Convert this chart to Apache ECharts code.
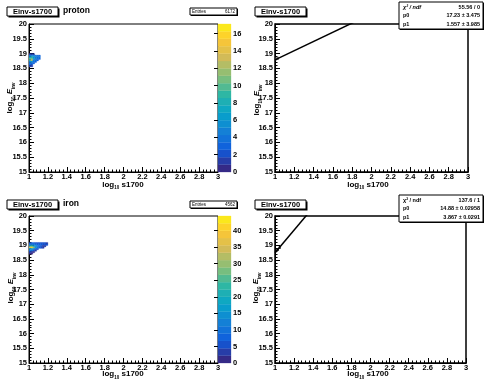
<!DOCTYPE html>
<html><head><meta charset="utf-8">
<script src="https://cdn.jsdelivr.net/npm/echarts@6/dist/echarts.min.js"></script>
<style>html,body{margin:0;padding:0;background:#fff}#c{width:484px;height:380px}</style>
</head><body><div id="c"></div>
<script>
// ---------------- data ----------------
const histTitle = 'Einv-s1700';
const panelLabels = ['proton', 'iron'];
const entries = ['6172', '4562'];
const xRange = [1, 3], xStep = 0.2;
const yRange = [15, 20], yStep = 0.5;
const binW = 0.02, binH = 0.05;
const xBinStarts = [1.00, 1.02, 1.04, 1.06, 1.08, 1.10, 1.12, 1.14, 1.16, 1.18];

const protonYBins = [18.95, 18.90, 18.85, 18.80, 18.75, 18.70, 18.65, 18.60, 18.55];
const protonCounts = [
  [1, 1, 1, 0, 0, 0],
  [4, 5, 5, 4, 4, 3],
  [6, 8, 6, 5, 4, 4],
  [10, 11, 7, 5, 4, 3],
  [9, 13, 5, 4, 3, 0],
  [5, 6, 4, 3, 0, 0],
  [4, 4, 3, 0, 0, 0],
  [3, 2, 0, 0, 0, 0],
  [1, 1, 0, 0, 0, 0]
];
const protonZMax = 17.1;
const protonZStep = 2;

const ironYBins = [19.05, 19.00, 18.95, 18.90, 18.85, 18.80, 18.75, 18.70];
const ironCounts = [
  [5, 7, 7, 6, 6, 6, 5, 5, 5, 4],
  [9, 11, 10, 9, 8, 8, 7, 6, 5, 5],
  [20, 24, 16, 12, 9, 7, 5, 4, 3, 0],
  [35, 42, 30, 18, 12, 8, 6, 4, 0, 0],
  [16, 18, 12, 8, 5, 0, 0, 0, 0, 0],
  [9, 10, 7, 4, 0, 0, 0, 0, 0, 0],
  [5, 4, 2, 0, 0, 0, 0, 0, 0, 0],
  [2, 1, 0, 0, 0, 0, 0, 0, 0, 0]
];
const ironZMax = 44.4;
const ironZStep = 5;

// profile points seen under the fit lines
const protonProfile = [[1.01, 18.82], [1.03, 18.84]];
const ironProfile = [[1.01, 18.82], [1.03, 18.86], [1.05, 18.93]];

// fit results (pol1: p0 + p1*x)
const fitX = [1, 3];
const protonFit = { chi2: '55.56 / 0', p0: 17.23, p0err: '3.475', p1: 1.557, p1err: '3.985' };
const ironFit = { chi2: '137.6 / 1', p0: 14.88, p0err: '0.02958', p1: 3.867, p1err: '0.0291' };

// ---------------- helpers ----------------
const FONT = '"Liberation Sans", Arial, sans-serif';
const bird = [[53,42,135],[15,92,221],[20,129,214],[6,164,202],[46,183,164],[135,191,119],[209,187,89],[254,200,50],[249,251,14]];
function birdColor(f) {
  const p = Math.max(0, Math.min(1, f)) * 8;
  const i = Math.min(7, Math.floor(p)), t = p - i;
  const c = bird[i].map((v, k) => Math.round(v + (bird[i + 1][k] - v) * t));
  return 'rgb(' + c.join(',') + ')';
}
function levelPieces(zmax) {
  const n = 20, dz = zmax / n, pieces = [];
  for (let i = 0; i < n; i++) {
    pieces.push({ gt: i * dz, lte: (i + 1) * dz + (i === n - 1 ? 1e9 : 0), color: birdColor(Math.floor(0.01 + i * 255 / n) / 254) });
  }
  return pieces;
}
function cells(yBins, counts) {
  const out = [];
  yBins.forEach((y, r) => counts[r].forEach((v, c) => { if (v > 0) out.push([xBinStarts[c], y, v]); }));
  return out;
}
function barLevels(zmax) {
  const out = [], n = 20, dz = zmax / n;
  for (let i = 0; i < n; i++) out.push([i * dz, (i + 1) * dz, (i + 0.5) * dz]);
  return out;
}
function renderCell(params, api) {
  const x = api.value(0), y = api.value(1);
  const a = api.coord([x, y + binH]), b = api.coord([x + binW, y]);
  const col = api.visual('color');
  return { type: 'rect', shape: { x: a[0], y: a[1], width: b[0] - a[0], height: b[1] - a[1] },
           style: { fill: col, stroke: col, lineWidth: 0.3 } };
}
function renderLevel(params, api) {
  const a = api.coord([0, api.value(1)]), b = api.coord([1, api.value(0)]);
  const col = api.visual('color');
  return { type: 'rect', shape: { x: a[0], y: a[1], width: b[0] - a[0], height: b[1] - a[1] },
           style: { fill: col, stroke: col, lineWidth: 0.3 } };
}
const lbl = { fontSize: 7.5, fontWeight: 'bold', color: '#000', fontFamily: FONT };
function mainX(gi) {
  return { gridIndex: gi, type: 'value', min: xRange[0], max: xRange[1], interval: xStep,
    axisLine: { show: true, onZero: false, lineStyle: { color: '#000', width: 1 } },
    axisTick: { show: true, inside: true, length: 5, lineStyle: { color: '#000', width: 1 } },
    minorTick: { show: true, splitNumber: 5, length: 2.5, lineStyle: { color: '#000', width: 1 } },
    splitLine: { show: false }, minorSplitLine: { show: false },
    axisLabel: Object.assign({ margin: 1 }, lbl) };
}
function mainY(gi) {
  return { gridIndex: gi, type: 'value', min: yRange[0], max: yRange[1], interval: yStep,
    axisLine: { show: true, onZero: false, lineStyle: { color: '#000', width: 1 } },
    axisTick: { show: true, inside: true, length: 5, lineStyle: { color: '#000', width: 1 } },
    minorTick: { show: true, splitNumber: 5, length: 2.5, lineStyle: { color: '#000', width: 1 } },
    splitLine: { show: false }, minorSplitLine: { show: false },
    axisLabel: Object.assign({ margin: 2 }, lbl) };
}
function barX(gi) { return { gridIndex: gi, type: 'value', min: 0, max: 1, show: false }; }
function barY(gi, zmax, step) {
  return { gridIndex: gi, type: 'value', min: 0, max: zmax, interval: step, position: 'right',
    axisLine: { show: false }, splitLine: { show: false },
    axisTick: { show: true, inside: true, length: 4, lineStyle: { color: '#000', width: 1 } },
    axisLabel: Object.assign({ margin: 2, showMaxLabel: false }, lbl) };
}
function fitLine(f) { return fitX.map(x => [x, f.p0 + f.p1 * x]); }

// ---------------- layout ----------------
const rows = [ { top: 24, h: 148, rW: 193 }, { top: 216, h: 147, rW: 191 } ];
const grids = [];
rows.forEach(r => {
  grids.push({ left: 29, top: r.top, width: 189, height: r.h, show: true, borderColor: '#000', borderWidth: 1, backgroundColor: 'transparent' });
  grids.push({ left: 218, top: r.top, width: 13, height: r.h, show: false });
  grids.push({ left: 275, top: r.top, width: r.rW, height: r.h, show: true, borderColor: '#000', borderWidth: 1.5, backgroundColor: 'transparent' });
});

const xAxes = [mainX(0), barX(1), mainX(2), mainX(3), barX(4), mainX(5)];
const yAxes = [mainY(0), barY(1, protonZMax, protonZStep), mainY(2), mainY(3), barY(4, ironZMax, ironZStep), mainY(5)];

const series = [
  { type: 'custom', xAxisIndex: 0, yAxisIndex: 0, renderItem: renderCell, clip: true, data: cells(protonYBins, protonCounts), silent: true },
  { type: 'custom', xAxisIndex: 1, yAxisIndex: 1, renderItem: renderLevel, data: barLevels(protonZMax), silent: true },
  { type: 'line', xAxisIndex: 2, yAxisIndex: 2, data: fitLine(protonFit), showSymbol: false, clip: true, lineStyle: { color: '#000', width: 1.5 }, silent: true },
  { type: 'custom', xAxisIndex: 3, yAxisIndex: 3, renderItem: renderCell, clip: true, data: cells(ironYBins, ironCounts), silent: true },
  { type: 'custom', xAxisIndex: 4, yAxisIndex: 4, renderItem: renderLevel, data: barLevels(ironZMax), silent: true },
  { type: 'line', xAxisIndex: 5, yAxisIndex: 5, data: fitLine(ironFit), showSymbol: false, clip: true, lineStyle: { color: '#000', width: 1.5 }, silent: true },
  { type: 'scatter', xAxisIndex: 2, yAxisIndex: 2, data: protonProfile, symbol: 'rect', symbolSize: [2, 3], itemStyle: { color: '#444' }, silent: true },
  { type: 'scatter', xAxisIndex: 5, yAxisIndex: 5, data: ironProfile, symbol: 'rect', symbolSize: [2, 3], itemStyle: { color: '#000' }, silent: true }
];

// ---------------- text / boxes ----------------
const g = [];
function box(x, y, w, h, sh) {
  g.push({ type: 'rect', shape: { x: x + sh, y: y + sh, width: w, height: h }, style: { fill: '#000' }, z: 100 });
  g.push({ type: 'rect', shape: { x: x, y: y, width: w, height: h }, style: { fill: '#fff', stroke: '#000', lineWidth: 1 }, z: 101 });
}
function txt(x, y, text, size, align, extra) {
  g.push({ type: 'text', x: x, y: y, z: 102, style: Object.assign({ text: text, fontSize: size, fontWeight: 'bold', fontFamily: FONT, fill: '#000', align: align || 'left', verticalAlign: 'middle' }, extra || {}) });
}
const rich = {
  b: { fontSize: 8, fontWeight: 'bold', fontFamily: FONT, lineHeight: 12 },
  s: { fontSize: 4.5, fontWeight: 'bold', fontFamily: FONT, verticalAlign: 'bottom', lineHeight: 8 },
  e: { fontSize: 8, fontWeight: 'bold', fontStyle: 'italic', fontFamily: FONT, lineHeight: 12 }
};
function xTitle(cx, cy) {
  g.push({ type: 'text', x: cx, y: cy, z: 102, style: { text: '{b|log}{s|10}{b| s1700}', rich: rich, align: 'center', verticalAlign: 'middle', fill: '#000' } });
}
function yTitle(cx, cy) {
  g.push({ type: 'text', x: cx, y: cy, rotation: Math.PI / 2, z: 102, style: { text: '{b|log}{s|10}{e| E}{s|inv}', rich: rich, align: 'center', verticalAlign: 'middle', fill: '#000' } });
}
function stats(x, y, f, italic) {
  box(x, y, 84, 27, 1);
  txt(x + 4, y + 5, 'χ² / ndf', 5.5, 'left', { fontStyle: italic ? 'italic' : 'normal' });
  txt(x + 81, y + 5, f.chi2, 5.5, 'right');
  txt(x + 4, y + 13.5, 'p0', 5.5, 'left');
  txt(x + 81, y + 13.5, f.p0.toFixed(2) + ' ± ' + f.p0err, 5.5, 'right');
  txt(x + 4, y + 22, 'p1', 5.5, 'left');
  txt(x + 81, y + 22, f.p1.toFixed(3) + ' ± ' + f.p1err, 5.5, 'right');
}
const rowY = [0, 193];
const fits = [protonFit, ironFit];
rowY.forEach((oy, i) => {
  box(7, 7 + oy, 51, 9, 1.5);
  txt(32.5, 11.5 + oy, histTitle, 7.5, 'center');
  txt(63, 10.5 + oy, panelLabels[i], 8.5, 'left');
  box(190, 8 + oy, 47, 7, 1);
  txt(192, 11.5 + oy, 'Entries', 4.5, 'left', { fontWeight: 'normal' });
  txt(235, 11.5 + oy, entries[i], 4.5, 'right', { fontWeight: 'normal' });
  box(255, 7 + oy, 51, 9, 1.5);
  txt(280.5, 11.5 + oy, histTitle, 7.5, 'center');
  stats(399, 2 + oy, fits[i], i === 0);
});
xTitle(123, 184.5); xTitle(368, 184.5);
xTitle(123, 374); xTitle(368, 374);
yTitle(10, 98); yTitle(257, 100);
yTitle(11, 288); yTitle(256, 288);

const chart = echarts.init(document.getElementById('c'), null, { renderer: 'canvas' });
chart.setOption({
  animation: false,
  backgroundColor: '#fff',
  grid: grids,
  xAxis: xAxes,
  yAxis: yAxes,
  visualMap: [
    { type: 'piecewise', show: false, dimension: 2, seriesIndex: [0, 1], pieces: levelPieces(protonZMax) },
    { type: 'piecewise', show: false, dimension: 2, seriesIndex: [3, 4], pieces: levelPieces(ironZMax) }
  ],
  series: series,
  graphic: g
});
</script>
</body></html>
